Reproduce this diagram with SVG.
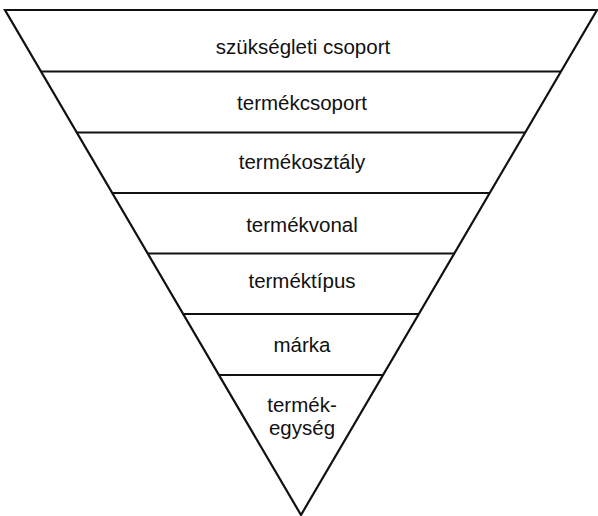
<svg xmlns="http://www.w3.org/2000/svg" width="598" height="516" viewBox="0 0 598 516">
<style>
.ln{stroke:#111;stroke-width:2.2;fill:none;stroke-linejoin:miter}
.t{font-family:"Liberation Sans",Arial,sans-serif;font-size:20.5px;fill:#111;text-anchor:middle}
</style>
<rect width="598" height="516" fill="#fff"/>
<g id="connectors">
<polygon class="ln" points="5,10 597,10 301,515"/>
<line class="ln" x1="40.9" y1="71.5" x2="561" y2="71.5"/>
<line class="ln" x1="76.6" y1="132.5" x2="525.2" y2="132.5"/>
<line class="ln" x1="111.9" y1="193" x2="489.7" y2="193"/>
<line class="ln" x1="147.3" y1="253.5" x2="454.3" y2="253.5"/>
<line class="ln" x1="182.6" y1="314" x2="418.8" y2="314"/>
<line class="ln" x1="218.2" y1="375" x2="383.1" y2="375"/>
</g>
<g id="n1"><text class="t" x="303" y="54">szükségleti csoport</text></g>
<g id="n2"><text class="t" x="302" y="110">termékcsoport</text></g>
<g id="n3"><text class="t" x="302" y="169">termékosztály</text></g>
<g id="n4"><text class="t" x="302" y="231.5">termékvonal</text></g>
<g id="n5"><text class="t" x="302" y="288">terméktípus</text></g>
<g id="n6"><text class="t" x="302" y="352">márka</text></g>
<g id="n7"><text class="t" x="302" y="412">termék-</text><text class="t" x="302" y="435">egység</text></g>
</svg>
